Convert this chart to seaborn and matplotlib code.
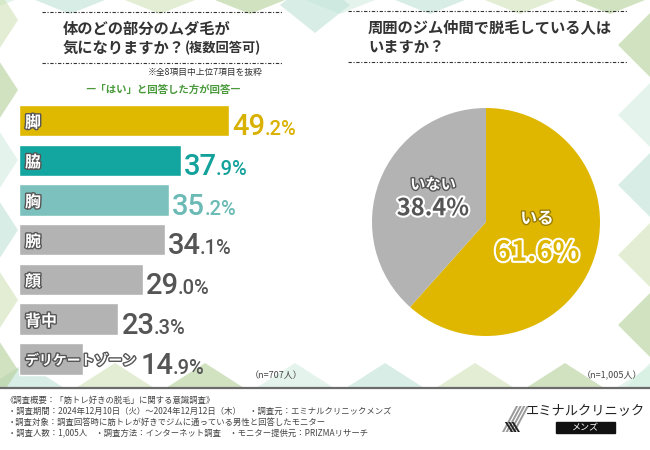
import seaborn as sns
import matplotlib.pyplot as plt
import matplotlib.patheffects as pe
from matplotlib.patches import Polygon, Rectangle
import pandas as pd

sns.set_theme(style="white")
plt.rcParams['font.family'] = ['Noto Sans CJK JP', 'DejaVu Sans']

# --- data ---
parts = ["脚", "脇", "胸", "腕", "顔", "背中", "デリケートゾーン"]
rates = [49.2, 37.9, 35.2, 34.1, 29.0, 23.3, 14.9]
bar_colors = ["#DFB800", "#13A59F", "#7CC1BD", "#B3B3B3", "#B3B3B3", "#B3B3B3", "#B3B3B3"]
num_colors = ["#D9B100", "#13A19B", "#6CBAB5", "#555555", "#555555", "#555555", "#555555"]

pie_labels = ["いる", "いない"]
pie_values = [61.6, 38.4]
pie_colors = ["#DFB700", "#B3B3B3"]

title_left = ["体のどの部分のムダ毛が", "気になりますか？", "(複数回答可)"]
title_right = ["周囲のジム仲間で脱毛している人は", "いますか？"]
note_left = "※全8項目中上位7項目を抜粋"
sub_left = "―「はい」と回答した方が回答―"
n_left = "（n=707人）"
n_right = "（n=1,005人）"
footer = [
    "《調査概要：「筋トレ好きの脱毛」に関する意識調査》",
    "・調査期間：2024年12月10日（火）～2024年12月12日（木）　・調査元：エミナルクリニックメンズ",
    "・調査対象：調査回答時に筋トレが好きでジムに通っている男性と回答したモニター",
    "・調査人数：1,005人　・調査方法：インターネット調査　・モニター提供元：PRIZMAリサーチ",
]

W, H = 650, 450
fig = plt.figure(figsize=(6.5, 4.5), dpi=100)
fig.patch.set_facecolor("white")

# background layer in pixel coordinates
bg = fig.add_axes([0, 0, 1, 1])
bg.set_xlim(0, W)
bg.set_ylim(H, 0)
bg.axis("off")

deco = ["#d3eee0", "#c0e2d8", "#cfe2b6", "#b3cf96"]


def diamond(cx, cy, hw, hh, color, alpha=0.6):
    bg.add_patch(Polygon([(cx - hw, cy), (cx, cy - hh), (cx + hw, cy), (cx, cy + hh)],
                         closed=True, color=color, alpha=alpha, lw=0, zorder=0))


for k, cx in enumerate(range(-20, 700, 90)):
    diamond(cx, -6, 50, 20, deco[k % 4])
for k, cx in enumerate(range(25, 700, 90)):
    diamond(cx, 395, 50, 32, deco[(k + 1) % 4])
for k, cy in enumerate(range(20, 400, 70)):
    diamond(-8, cy, 26, 40, deco[(k + 2) % 4])
for k, cy in enumerate(range(45, 400, 70)):
    diamond(658, cy, 40, 40, deco[(k + 3) % 4])
diamond(315, 5, 35, 28, "#c0e2d8")

# footer
bg.add_patch(Rectangle((0, 388), W, H - 388, color="white", zorder=1))
bg.plot([0, W], [388, 388], color="#6b6b6b", lw=1.6, zorder=2)
for i, line in enumerate(footer):
    bg.text(6 if i == 0 else 8, 400 + 11 * i, line, fontsize=6, color="#444444",
            va="center", ha="left", zorder=3)

# logo
for k in range(4):
    x0 = 502 + 3.6 * k
    bg.add_patch(Polygon([(x0, 432), (x0 + 2.2, 432), (x0 + 16.2, 406), (x0 + 14, 406)],
                         color="#9a9a9a", lw=0, zorder=3))
for k in range(3):
    x0 = 511 + 3.4 * k
    bg.add_patch(Polygon([(x0, 432), (x0 + 2.2, 432), (x0 - 4, 422), (x0 - 6.2, 422)],
                         color="#222222", lw=0, zorder=4))
bg.text(526, 411, "エミナルクリニック", fontsize=9.5, color="#222222", va="center", ha="left", zorder=3)
bg.add_patch(Rectangle((556, 422), 59, 11, color="#111111", zorder=3))
bg.text(585.5, 427.5, "メンズ", fontsize=6.5, color="white", va="center", ha="center", zorder=4)

# titles and dashed rules
dash = (0, (3, 1.5, 1, 1.5))
for y in (12, 63):
    bg.plot([42, 282], [y, y], color="#333333", lw=0.8, ls=dash)
for y in (11, 62):
    bg.plot([348, 628], [y, y], color="#333333", lw=0.8, ls=dash)

bg.text(63, 28, title_left[0], fontsize=11, fontweight="bold", color="#333333", va="center")
t2 = bg.text(63, 47.5, title_left[1], fontsize=11, fontweight="bold", color="#333333", va="center")
bg.annotate(title_left[2], xy=(1, 0.5), xycoords=t2, fontsize=9.5, fontweight="bold",
            color="#333333", va="center", ha="left")
bg.text(368, 28, title_right[0], fontsize=11, fontweight="bold", color="#333333", va="center")
bg.text(368, 46.5, title_right[1], fontsize=11, fontweight="bold", color="#333333", va="center")

bg.text(263, 72, note_left, fontsize=6.3, color="#333333", va="center", ha="right")
bg.text(163, 90, sub_left, fontsize=7.5, fontweight="bold", color="#4a9a3c", va="center", ha="center")
bg.text(303, 376, n_left, fontsize=6.5, color="#444444", va="center", ha="right")
bg.text(642, 376, n_right, fontsize=6.5, color="#444444", va="center", ha="right")

# --- bar chart ---
px_per_pt = 4.27
ax = fig.add_axes([19 / W, 1 - 378.8 / H, 300 / W, 278.2 / H])
df = pd.DataFrame({"part": parts, "rate": rates})
sns.barplot(data=df, x="rate", y="part", hue="part", palette=bar_colors, legend=False,
            width=0.79, saturation=1, ax=ax)
ax.set_xlim(0, 300 / px_per_pt)
ax.set_ylim(len(parts) - 0.5, -0.5)
ax.axis("off")

bars = {}
for p in ax.patches:
    bars[int(round(p.get_y() + p.get_height() / 2))] = p

lab_x = 6 / px_per_pt
labels = []
for i, name in enumerate(parts):
    fs = 11.5 if len(name) < 4 else 10
    under = ax.text(lab_x, i + 0.05, name, fontsize=fs, fontweight="bold", color="#555555",
                    va="center", ha="left")
    t = ax.text(lab_x, i + 0.05, name, fontsize=fs, fontweight="bold", color="white",
                va="center", ha="left",
                path_effects=[pe.Stroke(linewidth=2, foreground="#555555"), pe.Normal()])
    t.set_clip_path(bars[i])
    labels.append(under)

# value labels go after the bar, or after the name when the name runs past the bar
fig.canvas.draw()
inv = ax.transData.inverted()
for i in range(len(parts)):
    label_end = inv.transform((labels[i].get_window_extent().x1, 0))[0] + 1.5 / px_per_pt
    x_anchor = max(rates[i], label_end)
    val = f"{rates[i]:.1f}%"
    whole, rest = val.split(".")
    yb = i + 0.37
    big = ax.annotate(whole, xy=(x_anchor, yb), xytext=(3, 0), textcoords="offset pixels",
                      fontsize=21, color=num_colors[i], va="baseline", ha="left",
                      family=["Roboto", "DejaVu Sans"], fontweight="medium")
    ax.annotate("." + rest, xy=(1, yb), xycoords=(big, "data"), xytext=(-1, 0),
                textcoords="offset pixels", fontsize=14.5, color=num_colors[i],
                va="baseline", ha="left", family=["Roboto", "DejaVu Sans"], fontweight="medium")

# --- pie chart ---
cx, cy, r = 486, 222, 114
pax = fig.add_axes([(cx - r) / W, 1 - (cy + r) / H, 2 * r / W, 2 * r / H])
pax.pie(pie_values, colors=pie_colors, startangle=90, counterclock=False,
        wedgeprops={"linewidth": 0})
pax.set_xlim(-1, 1)
pax.set_ylim(-1, 1)

pax.text(0.447, 0.03, pie_labels[0], fontsize=12, fontweight="bold", color="white",
         ha="center", va="center",
         path_effects=[pe.Stroke(linewidth=2, foreground="#9c7f00"), pe.Normal()])
pax.text(0.447, -0.27, f"{pie_values[0]:.1f}%", fontsize=20, fontweight="bold",
         color=pie_colors[0], ha="center", va="center",
         path_effects=[pe.Stroke(linewidth=3, foreground="white"), pe.Normal()])
pax.text(-0.465, 0.33, pie_labels[1], fontsize=11, fontweight="bold", color="white",
         ha="center", va="center",
         path_effects=[pe.Stroke(linewidth=2, foreground="#555555"), pe.Normal()])
pax.text(-0.465, 0.12, f"{pie_values[1]:.1f}%", fontsize=17, fontweight="bold",
         color="#555555", ha="center", va="center",
         path_effects=[pe.Stroke(linewidth=3, foreground="white"), pe.Normal()])

fig.savefig("out.png", dpi=100)
